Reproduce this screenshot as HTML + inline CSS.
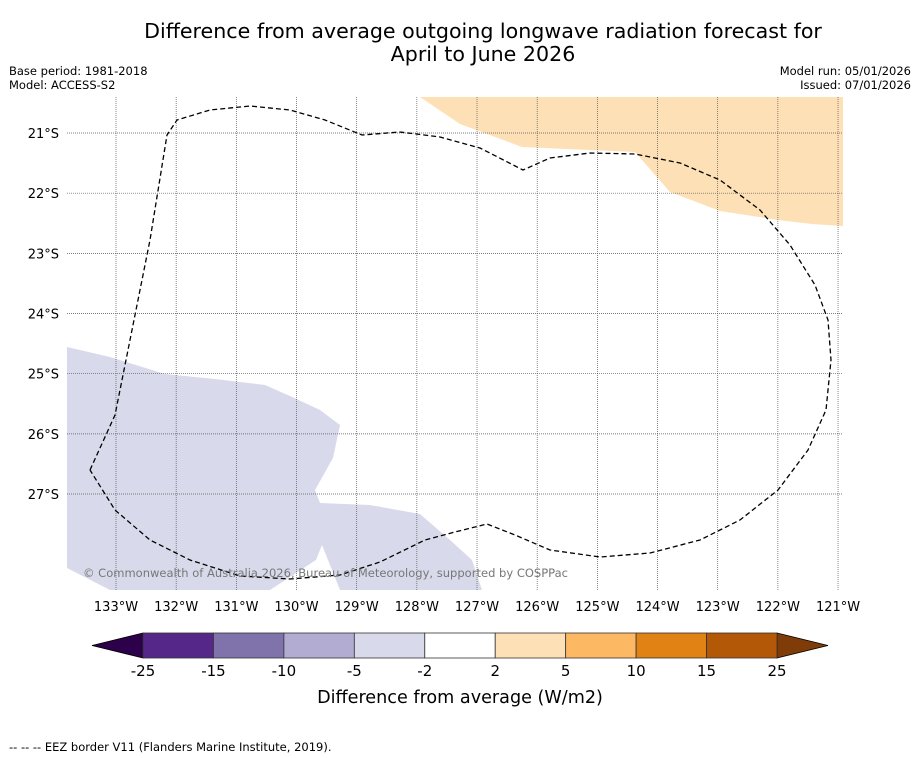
<!DOCTYPE html>
<html><head><meta charset="utf-8"><style>
body{margin:0;background:#fff;font-family:"DejaVu Sans","Liberation Sans",sans-serif;}
#root{position:relative;width:919px;height:758px;overflow:hidden;background:#fff}
</style></head><body>
<div id="root">
<svg width="919" height="758" font-family="DejaVu Sans, Liberation Sans, sans-serif">
<text x="483" y="38" text-anchor="middle" font-size="20.6">Difference from average outgoing longwave radiation forecast for</text>
<text x="483" y="61" text-anchor="middle" font-size="20.6">April to June 2026</text>
<text x="9" y="75" font-size="11.5">Base period: 1981-2018</text>
<text x="9" y="89" font-size="11.5">Model: ACCESS-S2</text>
<text x="911" y="75" font-size="11.5" text-anchor="end">Model run: 05/01/2026</text>
<text x="911" y="89" font-size="11.5" text-anchor="end">Issued: 07/01/2026</text>
<g id="map">
<polygon fill="#fee0b6" points="420,97 460,124 522,147 635,152 670,192 720,211 778,220 812,224 843,226 843,97"/>
<polygon fill="#d8daeb" points="67,347 110,357 165,374 215,379 265,385 290,396 320,410 340,425 333,458 315,490 320,503 370,505 420,514 450,540 472,560 482,590 340,590 322,545 316,560 270,590 110,590 67,568"/>
<g id="grid"></g>
<polyline fill="none" stroke="#000" stroke-width="1.3" stroke-dasharray="5,3" points="90,470 115,415 130,340 150,240 167,135 177,120 210,110 250,106 290,110 325,120 362,135 400,132 440,137 480,148 523,170 550,158 590,153 635,154 680,163 720,180 760,210 790,245 815,285 828,320 831,360 826,410 808,450 778,490 740,520 700,540 650,553 600,557 550,550 515,535 487,524 455,532 425,540 380,562 340,575 290,579 240,576 190,560 150,540 115,510 90,470"/>
<text x="83" y="577" font-size="11.5" fill="#777" textLength="485">© Commonwealth of Australia 2026, Bureau of Meteorology, supported by COSPPac</text>
</g>
<g id="axes"></g>
<g id="cbar"></g>
<text x="460" y="703" text-anchor="middle" font-size="17.6">Difference from average (W/m2)</text>
<text x="9" y="751" font-size="11.5">--  --  -- EEZ border V11 (Flanders Marine Institute, 2019).</text>
</svg>
</div>
<script>
const lonTicks=[133,132,131,130,129,128,127,126,125,124,123,122,121];
const latTicks=[21,22,23,24,25,26,27];
const cbarBounds=[-25,-15,-10,-5,-2,2,5,10,15,25];
const cbarColors=["#542788","#8073ac","#b2abd2","#d8daeb","#ffffff","#fee0b6","#fdb863","#e08214","#b35806"];
const NS="http://www.w3.org/2000/svg";
const x0=67,x1=843,y0=97,y1=590;
function xLon(w){return 116+(133-w)*60.17;}
function yLat(s){return 133+(s-21)*60.17;}
function mk(t,a,p){const e=document.createElementNS(NS,t);for(const k in a)e.setAttribute(k,a[k]);p.appendChild(e);return e;}
const grid=document.getElementById('grid'),axes=document.getElementById('axes'),cb=document.getElementById('cbar');
lonTicks.forEach(w=>{const x=xLon(w);
 const l=mk('line',{x1:x,x2:x,y1:y0,y2:y1,stroke:'#555','stroke-width':0.7,'stroke-dasharray':'1,1'},grid);
 
 
 const t=mk('text',{x:x,y:611,'text-anchor':'middle','font-size':13},axes);t.textContent=w+'°W';
 
 });
latTicks.forEach(s=>{const y=yLat(s);
 const l=mk('line',{x1:x0,x2:x1,y1:y,y2:y,stroke:'#555','stroke-width':0.7,'stroke-dasharray':'1,1'},grid);
 
 
 const t=mk('text',{x:59,y:y+5,'text-anchor':'end','font-size':13},axes);t.textContent=s+'°S';
 
 });
const cx0=143,cx1=777,cy=633,ch=25,n=cbarColors.length,sw=(cx1-cx0)/n;
let tri=mk('polygon',{points:`${cx0},${cy} ${cx0},${cy+ch} 92,${cy+ch/2}`,fill:'#2d004b',stroke:'#000','stroke-width':0.8},cb);


tri=mk('polygon',{points:`${cx1},${cy} ${cx1},${cy+ch} 828,${cy+ch/2}`,fill:'#7f3b08',stroke:'#000','stroke-width':0.8},cb);


cbarColors.forEach((c,i)=>{const r=mk('rect',{x:cx0+i*sw,y:cy,width:sw,height:ch,fill:c,stroke:'#333','stroke-width':0.8},cb);
 
 });
cbarBounds.forEach((v,i)=>{const t=mk('text',{x:cx0+i*sw,y:676,'text-anchor':'middle','font-size':15},cb);t.textContent=v;
 
 });
</script>
</body></html>
